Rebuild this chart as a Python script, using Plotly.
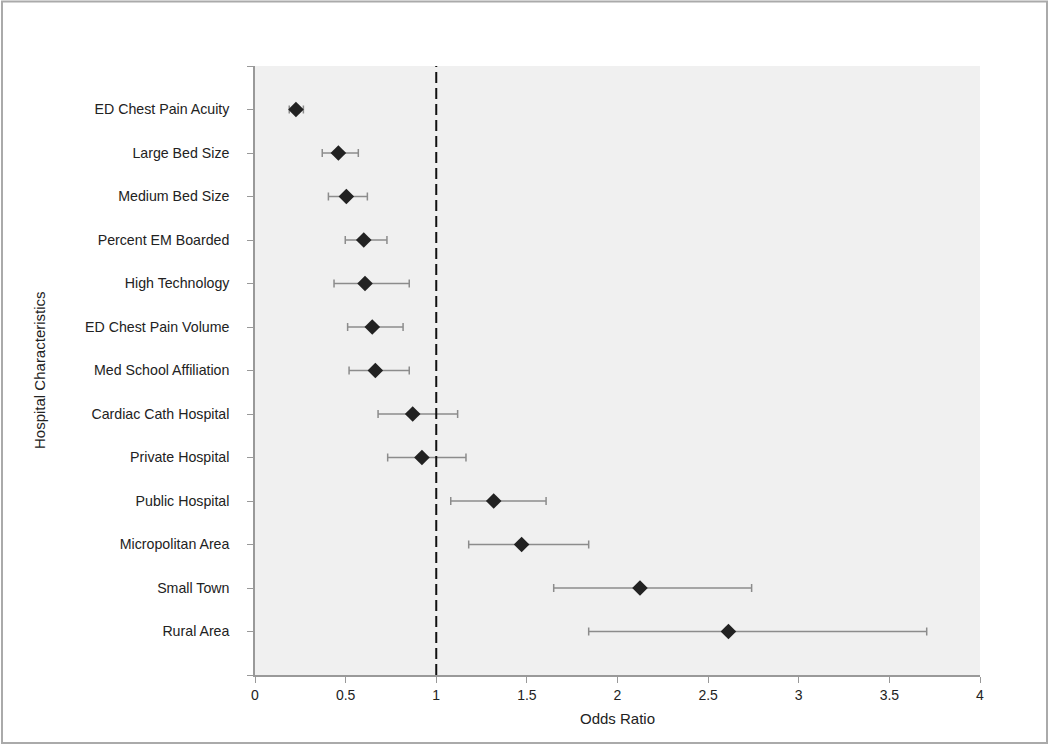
import plotly.graph_objects as go

categories = ["ED Chest Pain Acuity", "Large Bed Size", "Medium Bed Size", "Percent EM Boarded",
              "High Technology", "ED Chest Pain Volume", "Med School Affiliation", "Cardiac Cath Hospital",
              "Private Hospital", "Public Hospital", "Micropolitan Area", "Small Town", "Rural Area"]
odds_ratio = [0.226, 0.46, 0.504, 0.60, 0.607, 0.647, 0.664, 0.870, 0.921, 1.317, 1.471, 2.124, 2.612]
ci_low = [0.189, 0.371, 0.405, 0.498, 0.436, 0.511, 0.519, 0.679, 0.732, 1.080, 1.179, 1.648, 1.841]
ci_high = [0.267, 0.570, 0.620, 0.728, 0.851, 0.817, 0.851, 1.118, 1.164, 1.606, 1.841, 2.740, 3.706]
x_ticks = [0, 0.5, 1, 1.5, 2, 2.5, 3, 3.5, 4]
x_tick_labels = ["0", "0.5", "1", "1.5", "2", "2.5", "3", "3.5", "4"]

n = len(categories)
ypos = list(range(n))

fig = go.Figure()
fig.add_trace(go.Scatter(
    x=odds_ratio, y=ypos, mode="markers",
    marker=dict(symbol="diamond", size=12, color="#222222", line=dict(width=0)),
    error_x=dict(type="data", symmetric=False,
                 array=[h - o for h, o in zip(ci_high, odds_ratio)],
                 arrayminus=[o - l for o, l in zip(odds_ratio, ci_low)],
                 color="#8c8c8c", thickness=1.5, width=4),
    showlegend=False, hoverinfo="x+y",
))

# reference line at OR = 1
fig.add_shape(type="line", xref="x", yref="paper", x0=1, x1=1, y0=0, y1=1,
              line=dict(color="#111111", width=2, dash="11px,5px"))

L, R, T, B = 255, 70, 66, 70
W, H = 1050, 745
pw, ph = W - L - R, H - T - B
# outer frame
fig.add_shape(type="rect", xref="paper", yref="paper",
              x0=(2 - L) / pw, x1=(1047 - L) / pw,
              y0=(T + ph - 743) / ph, y1=(T + ph - 1.5) / ph,
              line=dict(color="#aaaaaa", width=2), fillcolor="rgba(0,0,0,0)", layer="below")

fig.add_annotation(text="Hospital Characteristics", xref="paper", yref="paper",
                   x=(40 - L) / pw, y=(T + ph - 370) / ph, textangle=-90, showarrow=False,
                   font=dict(size=15, color="#222222"), xanchor="center", yanchor="middle")
fig.add_annotation(text="Odds Ratio", xref="paper", yref="paper",
                   x=(617 - L) / pw, y=(T + ph - 718) / ph, showarrow=False,
                   font=dict(size=15, color="#222222"), xanchor="center", yanchor="middle")

fig.update_layout(
    width=W, height=H,
    margin=dict(l=L, r=R, t=T, b=B, autoexpand=False),
    paper_bgcolor="white", plot_bgcolor="#f0f0f0",
    font=dict(family="Liberation Sans, Arial, sans-serif", size=14, color="#222222"),
    xaxis=dict(range=[0, 4], tickvals=x_ticks, ticktext=x_tick_labels, showgrid=False, zeroline=False,
               showline=True, linecolor="#999999", linewidth=1.5, ticks="outside", ticklen=6,
               tickcolor="#999999", tickwidth=1, tickfont=dict(size=14, color="#222222")),
    yaxis=dict(range=[n, -1], tickvals=list(range(-1, n + 1)),
               ticktext=[""] + categories + [""], showgrid=False, zeroline=False,
               showline=True, linecolor="#999999", linewidth=1.5, ticks="outside", ticklen=6,
               tickcolor="#999999", tickwidth=1, ticklabelstandoff=15,
               tickfont=dict(size=14.2, color="#222222")),
)

fig.write_html("out.html", config={"displayModeBar": False},
               post_script="document.body.style.margin='0';document.body.style.overflow='hidden';")
